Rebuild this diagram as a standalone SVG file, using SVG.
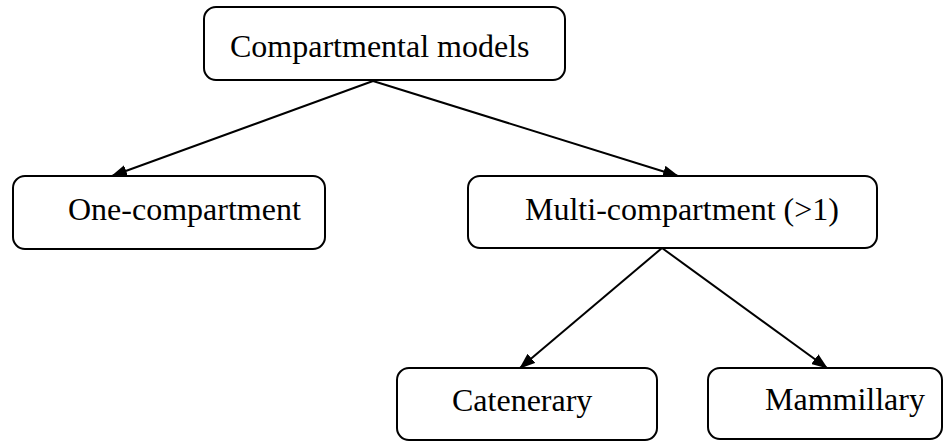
<svg xmlns="http://www.w3.org/2000/svg" width="944" height="441" viewBox="0 0 944 441">
<style>
.box{fill:#fff;stroke:#000;stroke-width:2}
.lbl{font-family:"Liberation Serif","Times New Roman",serif;font-size:32px;fill:#000}
.edge{stroke:#000;stroke-width:2;fill:none;marker-end:url(#ah)}
</style>
<defs>
<marker id="ah" markerUnits="userSpaceOnUse" markerWidth="16" markerHeight="12" viewBox="0 0 16 12" refX="15" refY="6" orient="auto">
<path d="M0,0 L16,6 L0,12 z" fill="#000"/>
</marker>
</defs>
<rect width="944" height="441" fill="#fff"/>
<g id="connectors">
<line class="edge" x1="373" y1="81" x2="112" y2="176"/>
<line class="edge" x1="373" y1="81" x2="678" y2="176"/>
<line class="edge" x1="662" y1="248" x2="520" y2="368"/>
<line class="edge" x1="662" y1="248" x2="827" y2="368"/>
</g>
<g id="node-compartmental">
<rect class="box" x="204" y="7" width="361" height="73" rx="12"/>
<text class="lbl" x="230" y="57">Compartmental models</text>
</g>
<g id="node-one">
<rect class="box" x="13" y="176" width="312" height="73" rx="12"/>
<text class="lbl" x="68" y="220">One-compartment</text>
</g>
<g id="node-multi">
<rect class="box" x="468" y="176" width="409" height="72" rx="12"/>
<text class="lbl" x="525" y="220">Multi-compartment (&gt;1)</text>
</g>
<g id="node-catenerary">
<rect class="box" x="397" y="368" width="260" height="72" rx="12"/>
<text class="lbl" x="452" y="411">Catenerary</text>
</g>
<g id="node-mammillary">
<rect class="box" x="708" y="368" width="234" height="71" rx="12"/>
<text class="lbl" x="765" y="410">Mammillary</text>
</g>
</svg>
